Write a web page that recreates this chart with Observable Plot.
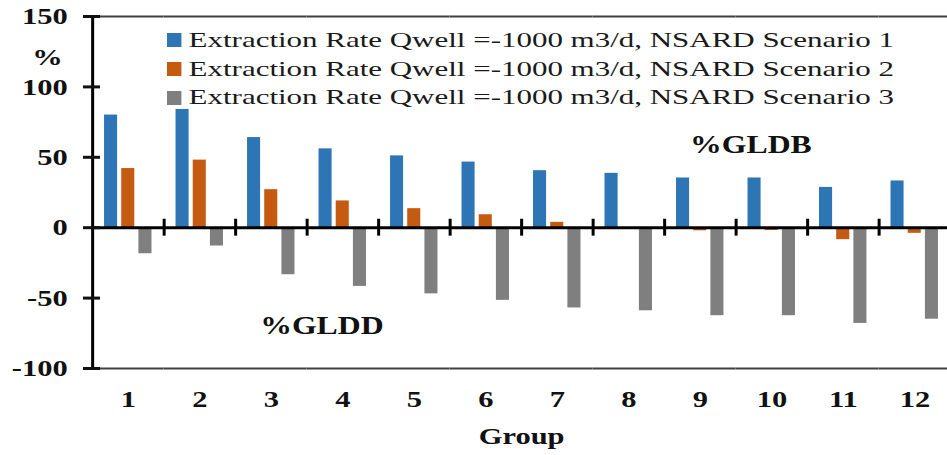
<!DOCTYPE html>
<html><head><meta charset="utf-8">
<script src="https://cdn.jsdelivr.net/npm/d3@7"></script>
<script src="https://cdn.jsdelivr.net/npm/@observablehq/plot@0.6"></script>
<style>
html,body{margin:0;padding:0;background:#fff;overflow:hidden;width:947px;height:455px;}
#wrap{position:relative;width:947px;height:455px;overflow:hidden;background:#fff;}
#chart{position:absolute;left:0;top:0;transform-origin:0 0;}
#legend{position:absolute;left:167px;top:26px;transform-origin:0 0;transform:scaleX(1.44);font-family:"Liberation Serif","Times New Roman",serif;font-size:21.5px;color:#1a1a1a;}
.row{display:flex;align-items:center;height:28.7px;white-space:nowrap;}
.sw{width:10px;height:14px;margin-right:5px;flex:none;}
</style></head><body>
<div id="wrap"><div id="chart"></div><div id="legend"></div></div>
<script>
// ---- data ----
const groups = [1, 2, 3, 4, 5, 6, 7, 8, 9, 10, 11, 12];
const seriesNames = [
  "Extraction Rate Qwell =-1000 m3/d, NSARD Scenario 1",
  "Extraction Rate Qwell =-1000 m3/d, NSARD Scenario 2",
  "Extraction Rate Qwell =-1000 m3/d, NSARD Scenario 3"
];
const scenario1 = [80, 84, 64, 56, 51, 46.6, 40.5, 38.6, 35.3, 35.3, 28.6, 33.2];
const scenario2 = [42, 48, 27, 19, 13.5, 9.2, 3.8, 0, -2.2, -2, -8.5, -4];
const scenario3 = [-18.5, -13, -33.4, -41.7, -47, -51.6, -57, -59, -62.5, -62.5, -68, -65];
const seriesColors = ["#2E75B6", "#C55A11", "#7F7F7F"];
const yTicks = [-100, -50, 0, 50, 100, 150];
const yDomain = [-100, 150];
const yLabel = "%";
const yLabelValue = 121;
const xLabel = "Group";
const annotations = [
  {label: "%GLDB", group: 10, value: 59},
  {label: "%GLDD", group: 4, value: -70}
];

// ---- table ----
const values = [scenario1, scenario2, scenario3];
const rows = [];
groups.forEach((g, i) => seriesNames.forEach((s, j) => rows.push({group: g, series: s, value: values[j][i]})));

// ---- layout ----
const S = 1.27;                 // horizontal stretch of the original picture
const W = 950 / S;
const ml = 92 / S, mr = 0, mt = 16, mb = 87;
const pi = 0.24, po = 0.70;
const facetW = (W - ml - mr) / groups.length;
const step = facetW / (seriesNames.length - pi + 2 * po);
const edge = po * step + step * (1 - pi) / 2;

const chart = Plot.plot({
  width: W, height: 455,
  marginLeft: ml, marginRight: mr, marginTop: mt, marginBottom: mb,
  style: {fontFamily: "'Liberation Serif', 'Times New Roman', serif", fontSize: "24px", fontWeight: "bold", color: "#111", background: "transparent", overflow: "visible"},
  fx: {domain: groups, padding: 0, round: false, axis: null},
  x: {domain: seriesNames, paddingInner: pi, paddingOuter: po, round: false, axis: null},
  y: {domain: yDomain, axis: null},
  color: {domain: seriesNames, range: seriesColors},
  marks: [
    Plot.ruleY([yDomain[1]], {stroke: "#404040", strokeWidth: 2}),
    Plot.ruleY([yDomain[0]], {stroke: "#404040", strokeWidth: 2}),
    Plot.barY(rows, {fx: "group", x: "series", y: "value", fill: "series"}),
    Plot.ruleY([0], {stroke: "#000", strokeWidth: 3}),
    Plot.ruleX(groups, {fx: d => d, x: () => seriesNames[2], dx: edge, y1: -6, y2: 6, stroke: "#000", strokeWidth: 3 / S}),
    Plot.ruleX([groups[0]], {fx: d => d, x: () => seriesNames[0], dx: -edge, y1: yDomain[0], y2: yDomain[1], stroke: "#000", strokeWidth: 3 / S}),
    Plot.axisY({ticks: yTicks, tickSize: 9 / S, tickPadding: 16 / S, tickFormat: d => String(d), strokeWidth: 3, label: null}),
    Plot.axisY({ticks: yTicks, tickSize: -8 / S, text: null, strokeWidth: 3, label: null}),
    Plot.text([yLabel], {fx: () => groups[0], frameAnchor: "left", y: () => yLabelValue, text: d => d, dx: -(92 - 47.5 + 16) / S, fontSize: 24, fontWeight: "bold"}),
    Plot.text(annotations, {fx: "group", x: () => seriesNames[0], y: "value", text: "label", dx: -3, fontSize: 25, fontWeight: "bold", fill: "#111"}),
    Plot.axisFx({anchor: "bottom", tickSize: 0, tickPadding: 21, label: xLabel, labelAnchor: "center", labelArrow: "none", labelOffset: 76})
  ]
});
const box = document.getElementById("chart");
box.style.transform = `scaleX(${S})`;
box.appendChild(chart);

// ---- legend ----
const legend = document.getElementById("legend");
seriesNames.forEach((s, i) => {
  const row = document.createElement("div");
  row.className = "row";
  const sw = document.createElement("span");
  sw.className = "sw";
  sw.style.background = seriesColors[i];
  const t = document.createElement("span");
  t.textContent = s;
  row.appendChild(sw); row.appendChild(t);
  legend.appendChild(row);
});
</script>
</body></html>
